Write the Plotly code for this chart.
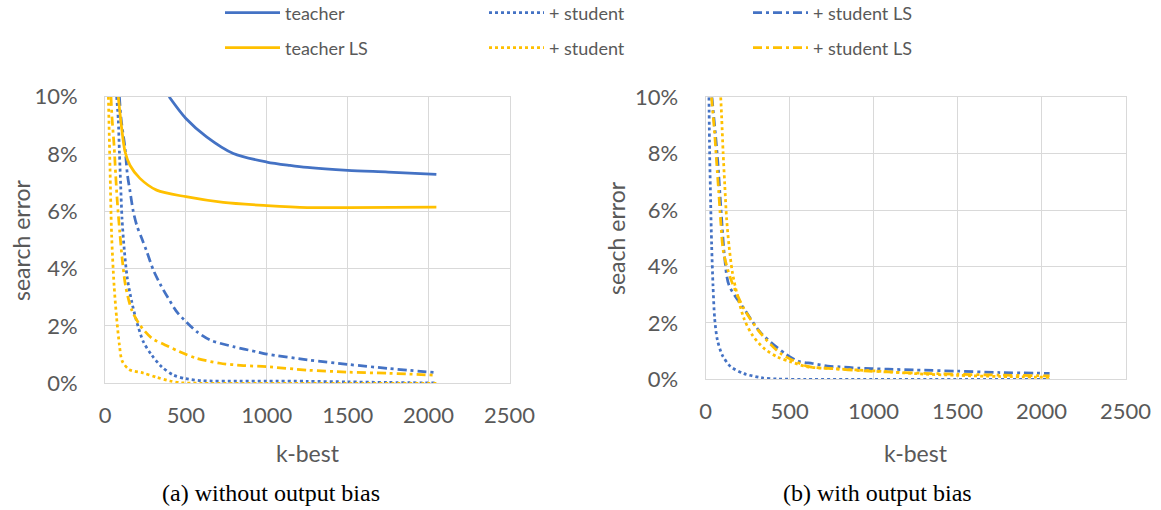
import plotly.graph_objects as go

# ---------------- data (k-best, search error in %) ----------------
# (a) without output bias
a_teacher_k = [396, 500, 628, 793, 1000, 1143, 1250, 1500, 1750, 2048]
a_teacher_y = [10.0, 9.24, 8.6, 8.02, 7.72, 7.6, 7.53, 7.43, 7.37, 7.29]

a_student_k = [72, 82, 89, 97, 105, 120, 138, 165, 196, 237, 288, 350, 422, 500, 600, 834, 1000, 1250, 1500, 1750, 2048]
a_student_y = [10.0, 9.2, 8.08, 6.9, 5.76, 4.6, 3.66, 2.85, 2.15, 1.45, 0.99, 0.58, 0.29, 0.16, 0.09, 0.08, 0.08, 0.07, 0.05, 0.03, 0.01]

a_studentls_k = [89, 100, 124, 138, 155, 175, 196, 227, 258, 299, 344, 391, 443, 490, 567, 649, 793, 937, 1000, 1250, 1500, 1750, 2048]
a_studentls_y = [10.0, 9.2, 8.2, 7.3, 6.69, 5.99, 5.52, 5.06, 4.6, 3.95, 3.43, 2.97, 2.5, 2.21, 1.8, 1.51, 1.28, 1.1, 1.02, 0.82, 0.66, 0.52, 0.37]

a_teacherls_k = [82, 103, 124, 155, 216, 319, 500, 731, 1000, 1250, 1500, 2048]
a_teacherls_y = [10.0, 8.9, 8.08, 7.6, 7.15, 6.74, 6.51, 6.31, 6.2, 6.13, 6.13, 6.15]

a_student2_k = [21, 31, 41, 56, 72, 89, 106, 150, 236, 319, 402, 470, 600, 1000, 1500, 2048]
a_student2_y = [10.0, 7.5, 5.17, 3.43, 2.27, 1.34, 0.78, 0.48, 0.36, 0.21, 0.08, 0.02, 0.0, 0.0, 0.0, 0.0]

a_studentls2_k = [37, 43, 56, 66, 76, 91, 107, 128, 165, 216, 290, 371, 463, 567, 711, 855, 1000, 1250, 1500, 1750, 2048]
a_studentls2_y = [10.0, 9.3, 8.3, 7.27, 6.34, 5.29, 4.3, 3.37, 2.56, 2.03, 1.57, 1.34, 1.1, 0.87, 0.7, 0.62, 0.58, 0.46, 0.39, 0.35, 0.28]

# (b) with output bias
b_student_k = [20, 24, 30, 36, 44, 54, 70, 100, 149, 229, 329, 428, 600, 1000, 1500, 2048]
b_student_y = [10.0, 8.07, 6.3, 4.76, 3.34, 2.15, 1.4, 0.85, 0.45, 0.2, 0.06, 0.01, 0.0, 0.0, 0.0, 0.0]

b_studentls_k = [38, 42, 60, 74, 86, 98, 112, 139, 235, 330, 478, 552, 637, 727, 800, 906, 990, 1086, 1250, 1500, 1750, 2048]
b_studentls_y = [10.0, 9.73, 8.6, 7.6, 6.53, 5.47, 4.4, 3.34, 2.45, 1.64, 0.89, 0.64, 0.56, 0.47, 0.44, 0.4, 0.38, 0.36, 0.33, 0.29, 0.24, 0.21]

b_student2_k = [90, 96, 104, 114, 125, 139, 159, 189, 229, 279, 349, 428, 508, 608, 747, 906, 1086, 1250, 1500, 1750, 2048]
b_student2_y = [10.0, 9.25, 8.07, 6.9, 5.7, 4.76, 3.81, 2.98, 2.15, 1.56, 1.09, 0.79, 0.62, 0.44, 0.38, 0.33, 0.27, 0.2, 0.14, 0.1, 0.07]

b_studentls2_k = [35, 54, 66, 78, 90, 106, 149, 229, 329, 448, 608, 747, 946, 1086, 1250, 1500, 1750, 2048]
b_studentls2_y = [10.0, 8.7, 7.66, 6.65, 5.59, 4.52, 3.57, 2.5, 1.62, 0.91, 0.46, 0.38, 0.3, 0.26, 0.22, 0.18, 0.15, 0.12]

x_ticks = [0, 500, 1000, 1500, 2000, 2500]
y_ticks = [0, 2, 4, 6, 8, 10]
y_tick_labels = ["0%", "2%", "4%", "6%", "8%", "10%"]

BLUE = "#4472C4"
GOLD = "#FFC000"
GRAY = "#595959"
GRID = "#D9D9D9"
SANS = "Lato, sans-serif"
SERIF = "Times New Roman, Liberation Serif, serif"
W, H = 1161, 510
DASHDOT = "9px,4px,3px,4px"

fig = go.Figure()

def add(k, y, color, dash, name, xa, ya, legend, show):
    fig.add_trace(go.Scatter(
        x=k, y=y, mode="lines", name=name,
        line=dict(color=color, width=2.75, dash=dash, shape="spline", smoothing=0.8),
        xaxis=xa, yaxis=ya, legend=legend, showlegend=show,
        hoverinfo="skip"))

# left panel (a)
add(a_teacher_k, a_teacher_y, BLUE, "solid", "teacher", "x", "y", "legend", True)
add(a_student_k, a_student_y, BLUE, "dot", "+ student", "x", "y", "legend", True)
add(a_studentls_k, a_studentls_y, BLUE, DASHDOT, "+ student LS", "x", "y", "legend", True)
add(a_teacherls_k, a_teacherls_y, GOLD, "solid", "teacher LS", "x", "y", "legend2", True)
add(a_student2_k, a_student2_y, GOLD, "dot", "+ student", "x", "y", "legend2", True)
add(a_studentls2_k, a_studentls2_y, GOLD, DASHDOT, "+ student LS", "x", "y", "legend2", True)

# right panel (b)
add(b_student_k, b_student_y, BLUE, "dot", "+ student", "x2", "y2", "legend", False)
add(b_studentls_k, b_studentls_y, BLUE, DASHDOT, "+ student LS", "x2", "y2", "legend", False)
add(b_student2_k, b_student2_y, GOLD, "dot", "+ student", "x2", "y2", "legend2", False)
add(b_studentls2_k, b_studentls2_y, GOLD, DASHDOT, "+ student LS", "x2", "y2", "legend2", False)

def xaxis(domain, anchor):
    return dict(domain=domain, anchor=anchor, range=[0, 2500], tickvals=x_ticks,
                showgrid=True, gridcolor=GRID, gridwidth=1, zeroline=False,
                showline=True, linecolor=GRID, linewidth=1, mirror=True,
                ticks="", ticklabelstandoff=12, automargin=False,
                tickfont=dict(family=SANS, size=22, color=GRAY))

def yaxis(domain, anchor):
    return dict(domain=domain, anchor=anchor, range=[0, 10], tickvals=y_ticks,
                ticktext=y_tick_labels, showgrid=True, gridcolor=GRID, gridwidth=1,
                zeroline=False, showline=True, linecolor=GRID, linewidth=1, mirror=True,
                ticks="", ticklabelstandoff=22, automargin=False,
                tickfont=dict(family=SANS, size=22, color=GRAY))

def px(v):
    return v / W

def py(v):
    return 1 - v / H

legend_common = dict(orientation="h", bgcolor="rgba(0,0,0,0)", borderwidth=0,
                     font=dict(family=SANS, size=18, color=GRAY),
                     itemwidth=55, entrywidth=194, entrywidthmode="pixels",
                     xanchor="left", yanchor="middle", traceorder="normal")

def note(text, x, y, size, family=SANS, color=GRAY, angle=0):
    return dict(text=text, x=px(x), y=py(y), xref="paper", yref="paper",
                xanchor="center", yanchor="middle", textangle=angle,
                showarrow=False, font=dict(family=family, size=size, color=color))

fig.update_layout(
    width=W, height=H,
    margin=dict(l=0, r=0, t=0, b=0, autoexpand=False),
    paper_bgcolor="white", plot_bgcolor="white",
    xaxis=xaxis([px(105), px(509.5)], "y"),
    yaxis=yaxis([py(383.3), py(96.7)], "x"),
    xaxis2=xaxis([px(705.6), px(1125.5)], "y2"),
    yaxis2=yaxis([py(379.3), py(97.3)], "x2"),
    legend=dict(x=px(220), y=py(13), **legend_common),
    legend2=dict(x=px(220), y=py(48), **legend_common),
    showlegend=True,
    annotations=[
        note("search error", 21, 240, 23, angle=-90),
        note("seach error", 616, 238, 23, angle=-90),
        note("k-best", 308, 453, 23),
        note("k-best", 915.5, 453, 23),
        note("(a) without output bias", 271, 493, 24, family=SERIF, color="black"),
        note("(b) with output bias", 877, 493, 24, family=SERIF, color="black"),
    ],
)

fig.write_html("out.html")
